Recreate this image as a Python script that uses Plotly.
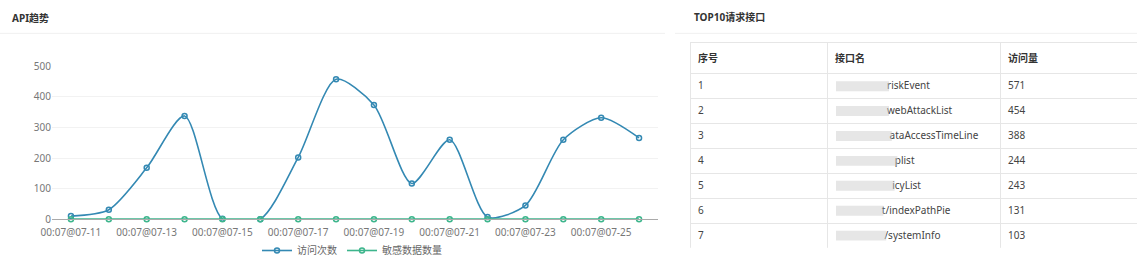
import plotly.graph_objects as go

# ---- data ----
dates = ["07-11", "07-12", "07-13", "07-14", "07-15", "07-16", "07-17", "07-18",
         "07-19", "07-20", "07-21", "07-22", "07-23", "07-24", "07-25", "07-26"]
categories = ["00:07@" + d for d in dates]
visits = [10, 31, 168, 338, 1, 0, 202, 458, 374, 117, 260, 7, 45, 260, 332, 266]
sensitive = [0, 0, 0, 0, 0, 0, 0, 0, 0, 0, 0, 0, 0, 0, 0, 0]
y_ticks = [0, 100, 200, 300, 400, 500]

table_index = ["1", "2", "3", "4", "5", "6", "7"]
table_names = ["riskEvent", "webAttackList", "ataAccessTimeLine", "plist",
               "icyList", "t/indexPathPie", "/systemInfo"]
table_counts = ["571", "454", "388", "244", "243", "131", "103"]
table_headers = ["序号", "接口名", "访问量"]
# visible-text start of each (partly redacted) name, for padding
name_pad = [20, 20, 21, 23, 22, 18, 19]

W, H = 1137, 265
FONT = "Noto Sans, Noto Sans CJK SC, sans-serif"
BLUE = "#3489b3"
GREEN = "#3db58c"


def px(x):
    return x / W


def py(y):
    return 1 - y / H


fig = go.Figure()
fig.add_trace(go.Scatter(
    x=categories, y=visits, name="访问次数", mode="lines+markers",
    line=dict(color=BLUE, width=1.6, shape="spline", smoothing=0.75),
    marker=dict(symbol="circle-open", size=5, color=BLUE, line=dict(width=1.5)),
    cliponaxis=False, xaxis="x", yaxis="y",
))
fig.add_trace(go.Scatter(
    x=categories, y=sensitive, name="敏感数据数量", mode="lines+markers",
    line=dict(color=GREEN, width=1.6),
    marker=dict(symbol="circle-open", size=5, color=GREEN, line=dict(width=1.5)),
    cliponaxis=False, xaxis="x", yaxis="y",
))

name_cells = ["\u00a0" * p + n for p, n in zip(name_pad, table_names)]
fig.add_trace(go.Table(
    domain=dict(x=[px(690), 1.0], y=[py(249), py(43)]),
    columnwidth=[137, 173, 137],
    header=dict(values=["<b>" + h + "</b>" for h in table_headers], height=31,
                align="left", fill_color="#ffffff", line_color="#e6e6e6",
                font=dict(family=FONT, size=10, color="#333333")),
    cells=dict(values=[table_index, name_cells, table_counts], height=25,
               align="left", fill_color="#ffffff", line_color="#e6e6e6",
               font=dict(family=FONT, size=10, color="#444444")),
))

# soft grey blocks standing in for the redacted (blurred) part of each name
blur_shapes = []
for i, p in enumerate(name_pad):
    yc = 74 + 25 * i + 12.5
    blur_shapes.append(dict(
        type="rect", xref="paper", yref="paper",
        x0=px(836), x1=px(835 + p * 2.8 - 2), y0=py(yc + 5), y1=py(yc - 5),
        fillcolor="rgba(200,200,200,0.45)", line=dict(width=0), layer="above"))

fig.update_layout(
    width=W, height=H,
    margin=dict(l=0, r=0, t=0, b=0),
    paper_bgcolor="white", plot_bgcolor="white",
    font=dict(family=FONT, size=10, color="#666666"),
    xaxis=dict(domain=[px(52), px(658)], range=[-0.5, len(categories) - 0.5],
               type="category", tickmode="array", automargin=False,
               tickvals=categories[::2], ticktext=categories[::2],
               showline=True, linecolor="#aaaaaa", linewidth=1,
               showgrid=False, zeroline=False, ticks="",
               ticklabelstandoff=4,
               tickfont=dict(size=10, color="#777777")),
    yaxis=dict(domain=[py(220), py(66.7)], range=[0, 500], automargin=False,
               tickmode="array", tickvals=y_ticks,
               showgrid=True, gridcolor="#f2f2f2", gridwidth=1,
               zeroline=False, showline=False, ticks="",
               tickfont=dict(size=10, color="#777777")),
    showlegend=True,
    legend=dict(orientation="h", x=px(352), xanchor="center",
                y=py(237), yanchor="top",
                font=dict(size=10, color="#666666"),
                bgcolor="rgba(0,0,0,0)", itemwidth=30),
    annotations=[
        dict(text="<b>API趋势</b>", x=px(10), y=py(18), xref="paper", yref="paper",
             xanchor="left", yanchor="middle", showarrow=False,
             font=dict(family=FONT, size=10, color="#333333")),
        dict(text="<b>TOP10请求接口</b>", x=px(692), y=py(17), xref="paper",
             yref="paper", xanchor="left", yanchor="middle", showarrow=False,
             font=dict(family=FONT, size=10, color="#333333")),
    ],
    shapes=[
        dict(type="line", xref="paper", yref="paper", x0=0, x1=px(665),
             y0=py(33.5), y1=py(33.5), line=dict(color="#f0f0f0", width=1)),
        dict(type="line", xref="paper", yref="paper", x0=px(675), x1=1,
             y0=py(33.5), y1=py(33.5), line=dict(color="#f0f0f0", width=1)),
    ] + blur_shapes,
)

fig.write_html("out.html")
